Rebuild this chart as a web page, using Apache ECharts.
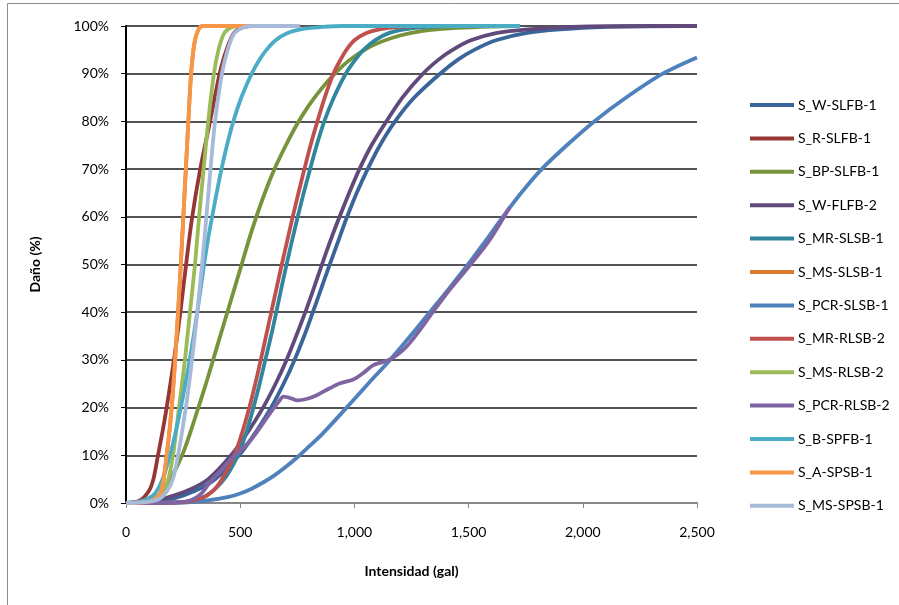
<!DOCTYPE html>
<html>
<head>
<meta charset="utf-8">
<script src="https://cdn.jsdelivr.net/npm/echarts@6/dist/echarts.min.js"></script>
<style>html,body{margin:0;padding:0;background:#fff;}#c{width:899px;height:605px;}</style>
</head>
<body>
<div id="c"></div>
<script>
// ---- data (x = intensidad gal, y = daño %) ----
const seriesNames = ["S_W-SLFB-1","S_R-SLFB-1","S_BP-SLFB-1","S_W-FLFB-2","S_MR-SLSB-1","S_MS-SLSB-1","S_PCR-SLSB-1","S_MR-RLSB-2","S_MS-RLSB-2","S_PCR-RLSB-2","S_B-SPFB-1","S_A-SPSB-1","S_MS-SPSB-1"];
const xTicks = [0, 500, 1000, 1500, 2000, 2500];
const yTicks = [0,10,20,30,40,50,60,70,80,90,100];

const S_W_SLFB_1 = [[0,0],[120,0.2],[200,0.8],[300,2.5],[390,5],[495,10],[570,15],[635,20],[690,25],[738,30],[780,35],[818,40],[855,45],[892,50],[930,55],[968,60],[1010,65],[1058,70],[1112,75],[1178,80],[1262,85],[1375,90],[1455,93],[1525,95],[1620,97],[1750,98.5],[1900,99.3],[2100,99.8],[2450,100],[2500,100]];
const S_R_SLFB_1 = [[0,0],[60,0.5],[100,2.5],[120,5],[140,10],[160,15],[178,20],[210,30],[238,40],[263,50],[290,60],[325,70],[368,80],[410,90],[440,95],[477,98.8],[540,100],[760,100]];
const S_BP_SLFB_1 = [[0,0],[100,0.4],[150,2],[200,5.5],[250,10.5],[300,17.5],[350,25],[400,33],[450,41],[500,49],[550,57],[600,64],[650,70],[700,75],[750,79.5],[800,83.3],[850,86.5],[900,89.3],[950,91.7],[1000,93.6],[1083,96],[1200,98],[1300,99],[1450,99.6],[1600,99.9],[1725,100]];
const S_W_FLFB_2 = [[0,0],[80,0.2],[170,1],[270,2.6],[360,5],[460,10],[535,15],[600,20],[655,25],[703,30],[745,35],[785,40],[822,45],[858,50],[895,55],[935,60],[977,65],[1022,70],[1075,75],[1140,80],[1210,85],[1300,90],[1370,93],[1430,95],[1510,97],[1620,98.5],[1760,99.3],[1950,99.8],[2300,100],[2500,100]];
const S_MR_SLSB_1 = [[0,0],[260,0.2],[350,1.5],[430,5],[490,10],[528,15],[558,20],[585,25],[610,30],[635,35],[658,40],[680,45],[703,50],[727,55],[752,60],[778,65],[806,70],[835,75],[868,80],[910,85],[962,90],[1005,93],[1040,95],[1090,97],[1150,98.5],[1220,99.3],[1320,99.8],[1450,100],[1725,100]];
const S_MS_SLSB_1 = [[0,0],[100,0.3],[150,2],[178,10],[200,20],[215,30],[228,40],[240,50],[251,60],[262,70],[273,80],[285,90],[300,96.5],[320,99.5],[340,100],[760,100]];
const S_PCR_SLSB_1 = [[0,0],[250,0.1],[350,0.5],[450,1.3],[500,2],[550,3],[600,4.3],[650,5.8],[700,7.6],[750,9.6],[800,11.8],[860,14.5],[966,20],[1060,25],[1156,30],[1245,35],[1330,40],[1415,45],[1497,50],[1575,55],[1650,60],[1730,65],[1820,70],[1930,75],[2050,80],[2190,85],[2350,90],[2500,93.4]];
const S_MR_RLSB_2 = [[0,0],[250,0.2],[330,1],[380,2.5],[420,5],[475,10],[510,15],[540,20],[566,25],[590,30],[613,35],[636,40],[659,45],[682,50],[706,55],[730,60],[755,65],[781,70],[808,75],[838,80],[870,85],[908,90],[940,93],[965,95],[1000,97],[1050,98.5],[1110,99.3],[1200,99.8],[1300,100],[1725,100]];
const S_MS_RLSB_2 = [[0,0],[100,0.3],[140,1.5],[160,2.5],[185,5],[206,10],[232,20],[258,30],[280,40],[302,50],[320,60],[340,70],[360,80],[385,90],[405,95],[430,98.5],[460,99.7],[500,100],[760,100]];
const S_PCR_RLSB_2 = [[0,0],[200,0.1],[260,0.3],[295,0.8],[330,2],[370,4.5],[420,7],[455,9],[500,11],[543,13],[590,16],[630,18.8],[665,21],[690,22.3],[720,22],[750,21.5],[790,21.8],[835,22.6],[890,24],[937,25.1],[995,25.9],[1040,27.3],[1083,28.9],[1156,30.1],[1214,32.1],[1250,34],[1287,36.3],[1340,39.8],[1415,44.6],[1505,49.8],[1590,55],[1680,62]];
const S_B_SPFB_1 = [[0,0],[60,0.3],[100,1],[130,2.2],[160,5],[193,10],[218,15],[240,20],[260,25],[279,30],[296,35],[312,40],[327,45],[342,50],[358,55],[377,60],[397,65],[418,70],[442,75],[470,80],[505,85],[550,90],[585,93],[615,95],[655,97],[705,98.5],[775,99.4],[860,99.8],[950,100],[1725,100]];
const S_A_SPSB_1 = [[0,0],[100,0.3],[150,2],[178,10],[200,20],[215,30],[228,40],[240,50],[251,60],[262,70],[273,80],[285,90],[300,96.5],[320,99.5],[340,100],[760,100]];
const S_MS_SPSB_1 = [[0,0],[100,0.3],[150,1],[180,2.5],[205,5],[228,10],[262,20],[289,30],[312,40],[333,50],[352,60],[370,70],[390,80],[420,90],[445,95],[475,98.5],[520,99.8],[560,100],[760,100]];

const seriesData = [S_W_SLFB_1,S_R_SLFB_1,S_BP_SLFB_1,S_W_FLFB_2,S_MR_SLSB_1,S_MS_SLSB_1,S_PCR_SLSB_1,S_MR_RLSB_2,S_MS_RLSB_2,S_PCR_RLSB_2,S_B_SPFB_1,S_A_SPSB_1,S_MS_SPSB_1];
const colors = ["#3A659B","#953735","#77933C","#604A7B","#31859C","#D97A2E","#4F81BD","#C0504D","#9BBB59","#8064A2","#4BACC6","#F79646","#A7BAD9"];

const FONT = 'Lato, "Open Sans", sans-serif';
const chart = echarts.init(document.getElementById('c'), null, {renderer:'canvas'});
chart.setOption({
  animation: false,
  backgroundColor: '#fff',
  textStyle: {fontFamily: FONT},
  graphic: [{type:'rect', shape:{x:7.5, y:3.5, width:1000, height:1000}, style:{fill:'none', stroke:'#8C8C8C', lineWidth:1}, z:-1}],
  grid: {left:126, right:202, top:26, bottom:102, containLabel:false},
  legend: {
    orient:'vertical', left:745, top:93, icon:'rect', itemWidth:44, itemHeight:4, itemGap:19.4,
    data: seriesNames,
    textStyle:{fontFamily:FONT, fontSize:14, color:'#000', padding:[0,0,0,-1]}
  },
  xAxis: {
    type:'value', min:0, max:2500, interval:500,
    name:'Intensidad (gal)', nameLocation:'middle', nameGap:61,
    nameTextStyle:{fontFamily:FONT, fontSize:14, fontWeight:'bold', color:'#000'},
    axisLine:{show:true, lineStyle:{color:'#868686', width:2}},
    axisTick:{show:true, length:5, lineStyle:{color:'#868686', width:1}},
    axisLabel:{margin:22, fontFamily:FONT, fontSize:14, color:'#000', formatter: v => xTicks.includes(v) ? v.toLocaleString('en-US') : ''},
    splitLine:{show:false}
  },
  yAxis: {
    type:'value', min:0, max:100, interval:10,
    name:'Daño (%)', nameLocation:'middle', nameGap:84,
    nameTextStyle:{fontFamily:FONT, fontSize:14, fontWeight:'bold', color:'#000'},
    axisLine:{show:true, lineStyle:{color:'#000', width:2}},
    axisTick:{show:true, length:5, lineStyle:{color:'#000', width:1}},
    axisLabel:{margin:17, fontFamily:FONT, fontSize:14, color:'#000', formatter: v => yTicks.includes(v) ? v + '%' : ''},
    splitLine:{show:true, lineStyle:{color:'#1a1a1a', width:1.5}}
  },
  series: seriesNames.map((n,i) => ({
    name:n, type:'line', data:seriesData[i], smooth:0.3, showSymbol:false, symbol:'none',
    color: colors[i], lineStyle:{color:colors[i], width:3.8}, itemStyle:{color:colors[i]}, z:2+i*0.01
  }))
});
</script>
</body>
</html>
